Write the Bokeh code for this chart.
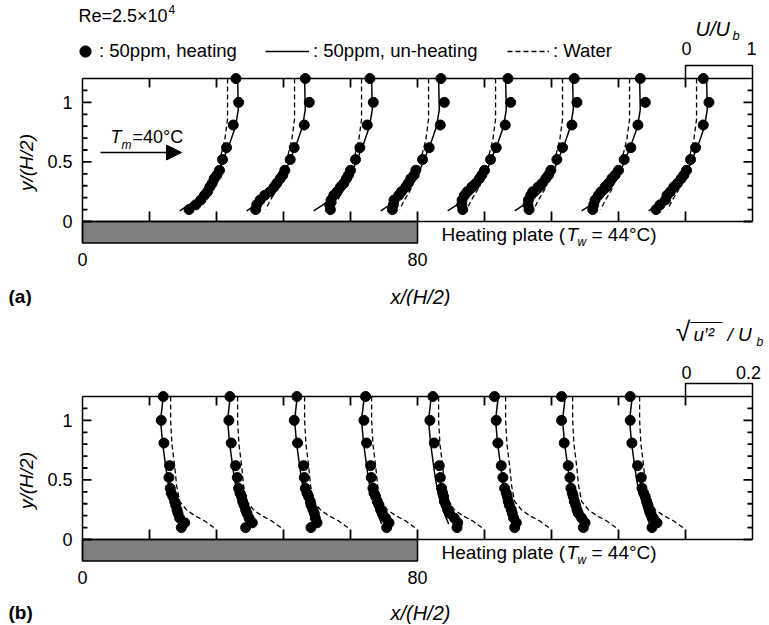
import math
from bokeh.plotting import figure
from bokeh.layouts import column
from bokeh.models import (Range1d, LinearAxis, FixedTicker, Label, Arrow, NormalHead,
                          Legend, LegendItem)
from bokeh.embed import file_html
from bokeh.resources import INLINE

FONT = "Liberation Sans"

# ------------------------------------------------------------------ data
station_x = [16, 32, 48, 64, 80, 96, 112, 128]          # origin of each profile, x/(H/2)
frame_ticks = [16, 32, 48, 64, 80, 96, 112, 128, 144]
frame_x = [0, 160]
frame_top = 1.2
x_tick_labels = {0: "0", 80: "80"}
y_major = [0, 0.5, 1]
y_minor = [0.1, 0.2, 0.3, 0.4, 0.6, 0.7, 0.8, 0.9, 1.1]
plate_x = [0, 80]
plate_depth = -0.18
bar_x = [144, 160]        # position of the scale bar (one bar length = 16 units of x/(H/2))
bar_width = 16
U_bar = 1.0               # U/Ub scale bar
urms_bar = 0.2            # u'rms/Ub scale bar

y_dots = [1.2, 1.0, 0.81, 0.62, 0.52, 0.43, 0.39, 0.36, 0.32, 0.29, 0.25, 0.22, 0.18, 0.14, 0.10]

# (a) mean velocity U/Ub, 50ppm heating (dots), one list per station
U_heat = [
    [1.29, 1.33, 1.25, 1.15, 1.09, 1.045, 1.005, 0.965, 0.935, 0.90, 0.865, 0.82, 0.765, 0.69, 0.59],
    [1.325, 1.385, 1.31, 1.16, 1.10, 1.02, 0.99, 0.95, 0.90, 0.86, 0.80, 0.72, 0.65, 0.60, 0.585],
    [1.29, 1.34, 1.25, 1.14, 1.075, 1.0, 0.97, 0.94, 0.90, 0.85, 0.80, 0.75, 0.71, 0.69, 0.70],
    [1.35, 1.40, 1.34, 1.175, 1.075, 0.975, 0.95, 0.90, 0.86, 0.825, 0.76, 0.72, 0.65, 0.64, 0.625],
    [1.35, 1.39, 1.31, 1.175, 1.09, 1.0, 0.96, 0.925, 0.87, 0.81, 0.74, 0.70, 0.665, 0.66, 0.675],
    [1.34, 1.38, 1.305, 1.165, 1.08, 0.99, 0.955, 0.915, 0.86, 0.80, 0.72, 0.69, 0.655, 0.65, 0.665],
    [1.325, 1.40, 1.29, 1.185, 1.085, 1.0, 0.95, 0.90, 0.85, 0.80, 0.74, 0.70, 0.65, 0.63, 0.615],
    [1.265, 1.35, 1.265, 1.15, 1.075, 1.015, 0.975, 0.935, 0.88, 0.825, 0.775, 0.725, 0.70, 0.62, 0.56],
]
y_U_unheat = [1.2, 0.94, 0.80, 0.66, 0.52, 0.38, 0.27, 0.19, 0.09]
U_unheat = [1.315, 1.325, 1.285, 1.20, 1.10, 1.0, 0.875, 0.725, 0.45]
y_U_water = [1.2, 0.86, 0.69, 0.52, 0.38, 0.27, 0.175, 0.10]
U_water = [1.165, 1.165, 1.125, 1.05, 0.975, 0.90, 0.80, 0.735]

# (b) rms streamwise fluctuation u'rms/Ub, 50ppm heating (dots)
urms_heat = [
    [0.041, 0.035, 0.043, 0.060, 0.058, 0.062, 0.065, 0.070, 0.075, 0.078, 0.082, 0.085, 0.090, 0.105, 0.095],
    [0.040, 0.037, 0.044, 0.057, 0.062, 0.066, 0.070, 0.075, 0.078, 0.082, 0.087, 0.091, 0.097, 0.107, 0.087],
    [0.040, 0.032, 0.042, 0.060, 0.062, 0.065, 0.070, 0.075, 0.080, 0.082, 0.088, 0.092, 0.095, 0.100, 0.082],
    [0.045, 0.040, 0.048, 0.060, 0.062, 0.067, 0.070, 0.075, 0.080, 0.085, 0.090, 0.095, 0.105, 0.115, 0.108],
    [0.046, 0.037, 0.050, 0.065, 0.068, 0.072, 0.075, 0.078, 0.080, 0.085, 0.090, 0.095, 0.110, 0.120, 0.118],
    [0.030, 0.035, 0.040, 0.050, 0.055, 0.060, 0.065, 0.068, 0.071, 0.074, 0.080, 0.083, 0.087, 0.095, 0.090],
    [0.030, 0.030, 0.038, 0.050, 0.055, 0.058, 0.062, 0.065, 0.068, 0.072, 0.076, 0.080, 0.090, 0.100, 0.095],
    [0.035, 0.035, 0.040, 0.057, 0.068, 0.070, 0.075, 0.080, 0.084, 0.088, 0.093, 0.097, 0.104, 0.115, 0.100],
]
y_urms_unheat = [1.2, 1.0, 0.81, 0.62, 0.52, 0.43, 0.32, 0.22, 0.13]
urms_unheat = [0.041, 0.033, 0.039, 0.048, 0.053, 0.059, 0.070, 0.080, 0.093]
y_urms_water = [1.2, 1.0, 0.8, 0.62, 0.45, 0.32, 0.25, 0.2, 0.155, 0.09]
urms_water = [0.063, 0.063, 0.067, 0.075, 0.081, 0.090, 0.110, 0.135, 0.165, 0.197]

# ------------------------------------------------------------------ layout helpers
W = 769
FRAME_L = 82          # page px of x = 0
PX_PER_X = 4.1875     # page px per x/(H/2) unit
PX_PER_Y = 119.13     # page px per y/(H/2) unit
MAJOR_PX, MINOR_PX, TICK_W = 9, 5, 1.8


def X(px):
    return (px - FRAME_L) / PX_PER_X


def make_panel(page_top, height, y0_page):
    def Y(py):
        return (y0_page - py) / PX_PER_Y

    p = figure(width=W, height=height,
               x_range=Range1d(X(0), X(W)),
               y_range=Range1d(Y(page_top + height), Y(page_top)),
               output_backend="svg", toolbar_location=None,
               x_axis_location=None, y_axis_location=None,
               min_border_left=0, min_border_right=0, min_border_top=0, min_border_bottom=0)
    p.outline_line_color = None
    p.grid.visible = False
    p.background_fill_color = "white"
    p.border_fill_color = "white"

    no_ticks = dict(axis_line_width=1.5, major_tick_line_color=None, minor_tick_line_color=None,
                    major_tick_in=0, major_tick_out=0, minor_tick_in=0, minor_tick_out=0)

    left = LinearAxis(fixed_location=frame_x[0], bounds=(plate_depth, frame_top),
                      ticker=FixedTicker(ticks=y_major, minor_ticks=y_minor),
                      major_label_overrides={0: "0", 0.5: "0.5", 1: "1"},
                      major_label_text_font=FONT, major_label_text_font_size="18px",
                      major_label_text_color="black", major_label_standoff=10, **no_ticks)
    p.add_layout(left, "left")

    right = LinearAxis(fixed_location=frame_x[1], bounds=(0, frame_top),
                       ticker=FixedTicker(ticks=y_major, minor_ticks=y_minor),
                       major_label_overrides={0: "", 0.5: "", 1: ""},
                       major_label_text_font_size="0px", major_label_standoff=0, **no_ticks)
    p.add_layout(right, "right")

    top = LinearAxis(fixed_location=frame_top, bounds=(frame_x[0], frame_x[1]),
                     ticker=FixedTicker(ticks=frame_ticks, minor_ticks=[]),
                     major_label_overrides={t: "" for t in frame_ticks},
                     major_label_text_font_size="0px", major_label_standoff=0, **no_ticks)
    p.add_layout(top, "above")

    bottom = LinearAxis(fixed_location=plate_depth,
                        ticker=FixedTicker(ticks=list(x_tick_labels.keys()), minor_ticks=[]),
                        major_label_overrides=x_tick_labels,
                        axis_line_color=None, major_tick_line_color=None,
                        minor_tick_line_color=None, major_tick_in=0, major_tick_out=0,
                        minor_tick_in=0, minor_tick_out=0,
                        major_label_text_font=FONT, major_label_text_font_size="18px",
                        major_label_text_color="black", major_label_standoff=10)
    p.add_layout(bottom, "below")

    # heating plate and wall line
    p.quad(left=[plate_x[0]], right=[plate_x[1]], bottom=[plate_depth], top=[0],
           fill_color="#808080", line_color="black", line_width=1.5)
    p.line(frame_x, [0, 0], line_color="black", line_width=1.5)

    # inward tick marks of the frame, drawn as "dash" markers centred half a tick inside
    hx, hy, hs = [], [], []          # horizontal ticks (left / right frame)
    for xe, sgn in ((frame_x[0], 1), (frame_x[1], -1)):
        for ticks, d in ((y_major, MAJOR_PX), (y_minor, MINOR_PX)):
            for yt in ticks:
                hx.append(xe + sgn * d / 2 / PX_PER_X); hy.append(yt); hs.append(d)
    p.scatter(hx, hy, size=hs, marker="dash", line_color="black", line_width=TICK_W)
    vx, vy = [], []                  # vertical ticks (top frame and wall)
    for xt in frame_ticks:
        vx += [xt, xt]
        vy += [frame_top - MAJOR_PX / 2 / PX_PER_Y, 5 / PX_PER_Y]
    p.scatter(vx, vy, size=[MAJOR_PX, 10] * len(frame_ticks), marker="dash",
              angle=math.pi / 2, line_color="black", line_width=TICK_W)

    def txt(text, px, py, size="18px", style="normal", align="left", angle=0):
        p.add_layout(Label(x=X(px), y=Y(py), text=text, text_font=FONT, text_font_size=size,
                           text_font_style=style, text_align=align, text_baseline="middle",
                           text_color="black", angle=angle, angle_units="deg"))

    # axis title
    txt("y/(H/2)", 26, y0_page - 59, size="19px", style="italic", align="center", angle=90)
    # Heating plate label
    plate_label_py = y0_page + 13
    txt("Heating plate (", 441, plate_label_py, size="19px")
    txt("T", 566, plate_label_py, size="19px", style="italic")
    txt("w", 577, plate_label_py + 7, size="12px", style="italic")
    txt("= 44°C)", 591, plate_label_py, size="19px")

    # scale bar bracket above the frame
    def bracket(py_top):
        p.line([bar_x[0], bar_x[0], bar_x[1], bar_x[1]],
               [frame_top, Y(py_top), Y(py_top), frame_top],
               line_color="black", line_width=1.5)

    return p, txt, Y, bracket


# ------------------------------------------------------------------ panel (a)
pa, txt_a, Ya, bracket_a = make_panel(0, 306, 221.0)

dot_r = line_r = dash_r = None
for sx, U in zip(station_x, U_heat):
    dash_r = pa.line([sx + bar_width * u / U_bar for u in U_water], y_U_water,
                     line_color="black", line_width=1.3, line_dash="5 3")
    line_r = pa.line([sx + bar_width * u / U_bar for u in U_unheat], y_U_unheat,
                     line_color="black", line_width=1.5)
    dot_r = pa.scatter([sx + bar_width * u / U_bar for u in U], y_dots, size=10,
                       fill_color="black", line_color="black")

leg_common = dict(padding=0, margin=0, border_line_color=None, background_fill_alpha=0,
                  label_text_font=FONT, label_text_font_size="18.5px", label_text_color="black",
                  glyph_height=28, label_height=28, spacing=0)
leg_bottom = 306 - 65
pa.add_layout(Legend(items=[LegendItem(label=": 50ppm, heating", renderers=[dot_r])],
                     location=(71, leg_bottom), glyph_width=28, label_standoff=0, **leg_common))
pa.add_layout(Legend(items=[LegendItem(label=": 50ppm, un-heating", renderers=[line_r])],
                     location=(265, leg_bottom), glyph_width=44, label_standoff=4, **leg_common))
pa.add_layout(Legend(items=[LegendItem(label=": Water", renderers=[dash_r])],
                     location=(507, leg_bottom), glyph_width=42, label_standoff=4, **leg_common))

txt_a("Re=2.5×10", 78, 15)
txt_a("4", 168, 9, size="12px")
txt_a("U/U", 695, 28, size="20px", style="italic")
txt_a("b", 732, 35, size="13px", style="italic")
txt_a("0", 686, 48, align="center")
txt_a("1", 751, 48, align="center")
bracket_a(65)

txt_a("T", 110, 136, style="italic")
txt_a("m", 121, 144, size="12px", style="italic")
txt_a("=40°C", 132, 136)
pa.add_layout(Arrow(end=NormalHead(size=15, fill_color="black", line_color="black"),
                    x_start=X(100), y_start=Ya(152), x_end=X(181), y_end=Ya(152),
                    line_color="black", line_width=1.5))
txt_a("x/(H/2)", 420, 296, size="20px", style="italic", align="center")
txt_a("(a)", 8, 296, size="19px", style="bold")

# ------------------------------------------------------------------ panel (b)
pb, txt_b, Yb, bracket_b = make_panel(306, 319, 539.0)

for sx, u_ in zip(station_x, urms_heat):
    pb.line([sx + bar_width * u / urms_bar for u in urms_water], y_urms_water,
            line_color="black", line_width=1.3, line_dash="5 3")
    pb.line([sx + bar_width * u / urms_bar for u in urms_unheat], y_urms_unheat,
            line_color="black", line_width=1.5)
    pb.scatter([sx + bar_width * u / urms_bar for u in u_], y_dots, size=10,
               fill_color="black", line_color="black")

txt_b("√", 675, 331, size="27px")
txt_b("u′²", 693, 334, size="19px", style="italic")
pb.line([X(690), X(722)], [Yb(322), Yb(322)], line_color="black", line_width=1.2)
txt_b("/ U", 727, 334, size="19px", style="italic")
txt_b("b", 756, 341, size="12px", style="italic")
txt_b("0", 686, 372, align="center")
txt_b("0.2", 748, 372, align="center")
bracket_b(383)
txt_b("x/(H/2)", 420, 612, size="20px", style="italic", align="center")
txt_b("(b)", 8, 612, size="19px", style="bold")

layout = column(pa, pb, spacing=0)
open("out.html", "w").write(file_html(layout, INLINE))
